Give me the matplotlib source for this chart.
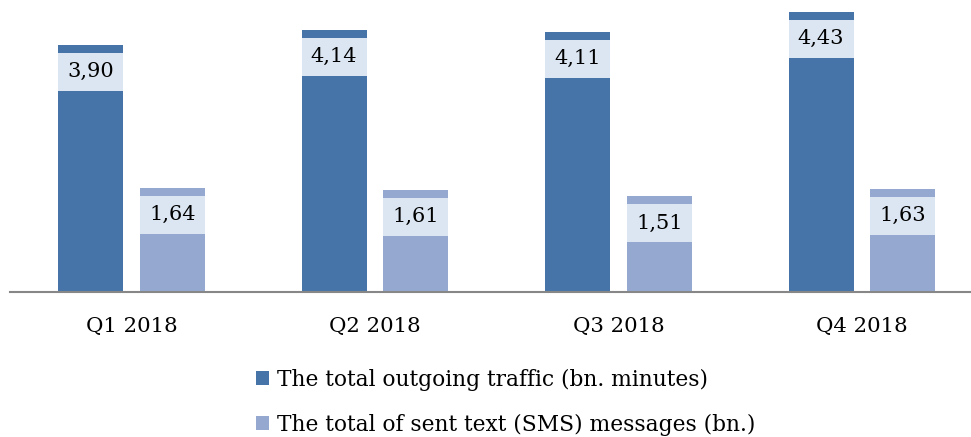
import matplotlib.pyplot as plt
import numpy as np

quarters = ['Q1 2018', 'Q2 2018', 'Q3 2018', 'Q4 2018']
traffic = [3.90, 4.14, 4.11, 4.43]
sms = [1.64, 1.61, 1.51, 1.63]
series_names = ['The total outgoing traffic (bn. minutes)',
                'The total of sent text (SMS) messages (bn.)']

dark = '#4674A8'
light = '#95A9D0'
box_color = '#DCE6F2'

plt.rcParams['font.family'] = ['DejaVu Serif']

fig = plt.figure(figsize=(9.71, 4.37), dpi=100)
ax = fig.add_axes([10 / 971, (437 - 292) / 437, 1 - 10 / 971, 292 / 437])

x = np.arange(len(quarters))
w = 0.267
off = 0.168

ax.bar(x - off, traffic, w, color=dark, label=series_names[0])
ax.bar(x + off, sms, w, color=light, label=series_names[1])

# label boxes near the top of each bar
for xs, vals in [(x - off, traffic), (x + off, sms)]:
    for xi, v in zip(xs, vals):
        ax.bar(xi, 0.60, w, bottom=v - 0.727, color=box_color)
        ax.text(xi, v - 0.42, f'{v:.2f}'.replace('.', ','), ha='center', va='center',
                fontsize=15, color='black')

ax.set_xlim((10 - 131.5) / 243.5, (971 - 131.5) / 243.5)
ax.set_ylim(0, 292 / 63.3)
ax.set_xticks(x)
ax.set_xticklabels(quarters, fontsize=15.3)
ax.tick_params(axis='x', length=0, pad=18)
ax.set_yticks([])
for s in ['top', 'right', 'left']:
    ax.spines[s].set_visible(False)
ax.spines['bottom'].set_color('#878787')
ax.spines['bottom'].set_linewidth(1.5)

fig.legend(loc='upper left', bbox_to_anchor=(256 / 971, 1 - 369 / 437), frameon=False,
           fontsize=15.7, handlelength=0.6, handleheight=0.6, handletextpad=0.35,
           labelspacing=1.04, borderaxespad=0, borderpad=0)

fig.savefig('out.png', dpi=100)
